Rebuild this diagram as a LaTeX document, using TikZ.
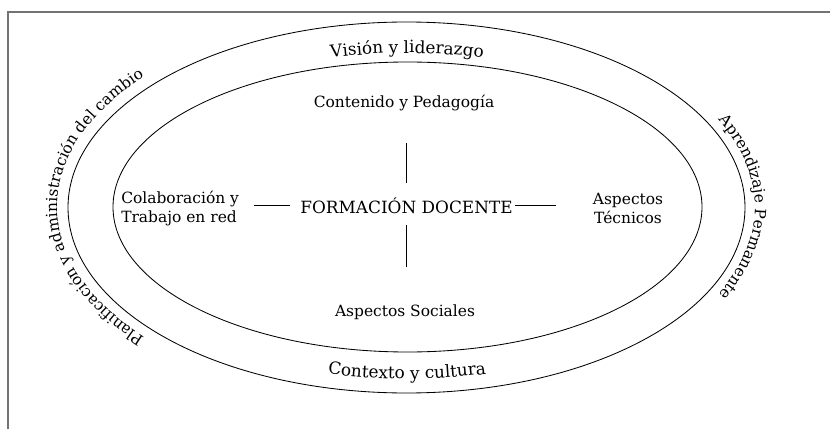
\documentclass[tikz,border=0pt]{standalone}
\usepackage{fontspec}
\setmainfont{DejaVu Serif}
\usetikzlibrary{decorations.text}

\begin{document}
\begin{tikzpicture}[x=0.025cm, y=0.025cm,
  ring/.style={line width=0.6pt},
  lab/.style={font=\fontsize{11}{13.5}\selectfont, inner sep=0pt, align=center},
  link/.style={line width=0.6pt},
  frame/.style={black!55, line width=0.8pt},
  arctext/.style={decorate, decoration={text along path, text align=center, text={#1}}}]
  \useasboundingbox (0,0) rectangle (830,429);
  \draw[frame] (8,0) |- (830,417);
  \draw[ring] (406.5,221.5) ellipse [x radius=338.5, y radius=185.5];
  \draw[ring] (407.5,222) ellipse [x radius=294.5, y radius=145];
  \node[lab, font=\fontsize{12}{14}\selectfont, anchor=base] (fd) at (406.5,216) {FORMACIÓN DOCENTE};
  \node[lab, anchor=base] (cp) at (404,321) {Contenido y Pedagogía};
  \node[lab, anchor=base] (as) at (405,113) {Aspectos Sociales};
  \node[lab, anchor=west, align=left] (cr) at (121,220) {Colaboración y\\Trabajo en red};
  \node[lab] (at) at (628,221) {Aspectos\\Técnicos};
  \draw[link, shorten <=10.7pt, shorten >=7pt] (cr.east |- fd.west) -- (fd.west);
  \draw[link, shorten <=1.4pt, shorten >=26.3pt] (fd.east) -- (at.west |- fd.east);
  \draw[link, shorten <=10pt, shorten >=22pt] (fd.north) -- (fd.north |- cp.south);
  \draw[link, shorten <=8.5pt, shorten >=26.3pt] (fd.south) -- (fd.south |- as.north);
  \path[arctext={|\fontsize{12}{14}\selectfont|Visión y liderazgo}]
    (407,222) ++(115:310 and 154) arc[start angle=115, end angle=65, x radius=310, y radius=154];
  \path[arctext={|\fontsize{12}{14}\selectfont|Contexto y cultura}]
    (407,222) ++(245:325 and 172) arc[start angle=245, end angle=295, x radius=325, y radius=172];
  \path[arctext={|\fontsize{11}{13}\selectfont|Planificación y administración del cambio}]
    (407,222) ++(228:350 and 197) arc[start angle=228, end angle=132, x radius=350, y radius=197];
  \path[arctext={|\fontsize{11}{13}\selectfont|Aprendizaje Permanente}]
    (407,222) ++(30:348 and 196) arc[start angle=30, end angle=-30, x radius=348, y radius=196];
\end{tikzpicture}
\end{document}
